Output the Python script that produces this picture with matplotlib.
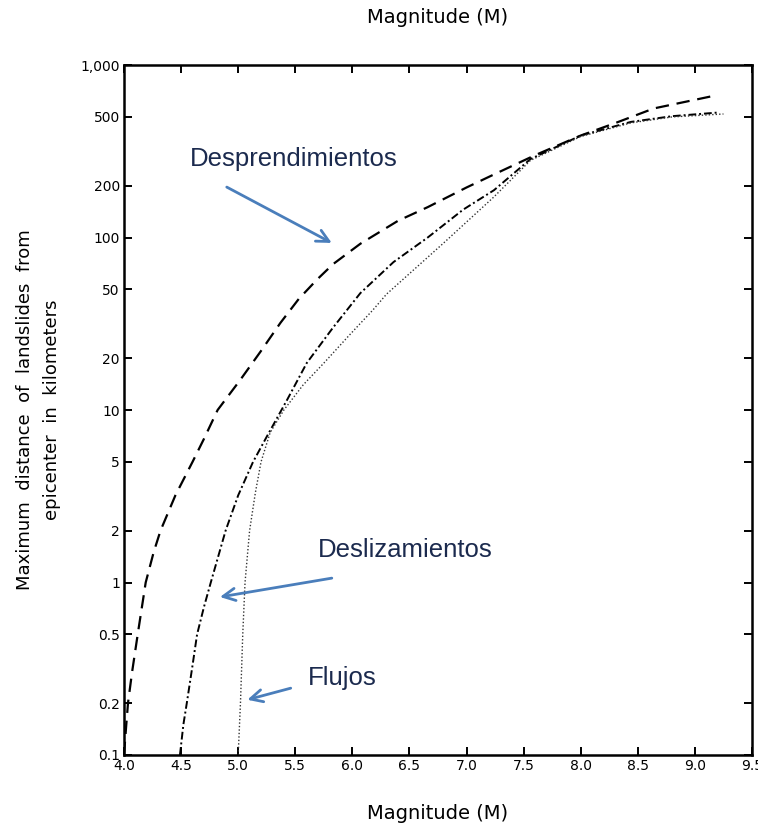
import numpy as np
import matplotlib
matplotlib.use("Agg")
import matplotlib.pyplot as plt
from matplotlib.ticker import FixedLocator, FixedFormatter, NullLocator

# ---- data ----
falls_M = [4.0, 4.02, 4.035, 4.07, 4.12, 4.19, 4.26, 4.32, 4.45, 4.6, 4.7, 4.82, 5.02, 5.2,
           5.37, 5.53, 5.69, 5.83, 6.07, 6.4, 6.66, 7.0, 7.24, 7.6, 8.0, 8.3, 8.64, 9.2]
falls_D = [0.1, 0.15, 0.2, 0.3, 0.5, 1.0, 1.5, 2.0, 3.2, 5.0, 6.8, 10.0, 15.0, 22.0,
           32.0, 44.0, 57.0, 70.0, 92.0, 125.0, 150.0, 195.0, 232.0, 300.0, 390.0, 460.0, 560.0, 670.0]

slides_M = [4.49, 4.52, 4.55, 4.6, 4.64, 4.7, 4.76, 4.89, 5.0, 5.13, 5.25, 5.43, 5.6, 5.83,
            6.07, 6.36, 6.66, 6.97, 7.24, 7.56, 8.0, 8.44, 8.8, 9.2]
slides_D = [0.1, 0.15, 0.2, 0.33, 0.5, 0.72, 1.0, 2.0, 3.2, 5.0, 7.0, 11.5, 18.7, 30.0,
            47.6, 72.0, 100.0, 145.0, 188.0, 285.0, 390.0, 468.0, 505.0, 530.0]

flows_M = [5.0, 5.02, 5.04, 5.06, 5.1, 5.15, 5.2, 5.28, 5.4, 5.57, 5.75, 5.97, 6.18, 6.3,
           6.8, 7.24, 7.56, 8.0, 8.44, 8.8, 9.25]
flows_D = [0.1, 0.2, 0.5, 1.0, 2.0, 3.3, 5.0, 7.4, 10.0, 14.0, 18.7, 27.0, 38.0, 47.0,
           93.0, 172.0, 280.0, 385.0, 462.0, 500.0, 520.0]

x_ticks = [4.0, 4.5, 5.0, 5.5, 6.0, 6.5, 7.0, 7.5, 8.0, 8.5, 9.0, 9.5]
y_ticks = [0.1, 0.2, 0.5, 1, 2, 5, 10, 20, 50, 100, 200, 500, 1000]
y_labels = ["0.1", "0.2", "0.5", "1", "2", "5", "10", "20", "50", "100", "200", "500", "1,000"]

labels = ["Desprendimientos", "Deslizamientos", "Flujos"]
label_pos = [(4.58, 259), (5.70, 1.41), (5.61, 0.255)]
arrow_tail = [(4.90, 196), (5.82, 1.06), (5.46, 0.244)]
arrow_head = [(5.82, 93), (4.84, 0.824), (5.08, 0.209)]

# ---- figure ----
W, H = 758, 834
fig = plt.figure(figsize=(W / 100, H / 100), dpi=100)
ax = fig.add_axes([124 / W, 1 - 755 / H, (752 - 124) / W, (755 - 65) / H])

ax.set_yscale("log")
ax.set_xlim(4.0, 9.5)
ax.set_ylim(0.1, 1000)

ax.plot(falls_M, falls_D, color="black", lw=1.6, linestyle=(0, (6, 3.5)))
ax.plot(slides_M, slides_D, color="black", lw=1.4, linestyle=(0, (4, 1.5, 1, 1.5)))
ax.plot(flows_M, flows_D, color="#333333", lw=1.0, linestyle=(0, (1, 1.5)))

ax.xaxis.set_major_locator(FixedLocator(x_ticks))
ax.xaxis.set_major_formatter(FixedFormatter(["%.1f" % v for v in x_ticks]))
ax.yaxis.set_major_locator(FixedLocator(y_ticks))
ax.yaxis.set_major_formatter(FixedFormatter(y_labels))
ax.yaxis.set_minor_locator(NullLocator())
ax.xaxis.set_minor_locator(NullLocator())

ax.tick_params(axis="both", which="major", direction="in", length=6, width=1.4,
               top=True, right=True, labelsize=10, pad=3, colors="black")
for s in ax.spines.values():
    s.set_linewidth(1.8)
    s.set_color("black")

ax.set_xlabel("Magnitude (M)", fontsize=14, labelpad=22)
ax.set_title("Magnitude (M)", fontsize=14, pad=30)
ax.set_ylabel("Maximum  distance  of  landslides  from\nepicenter  in  kilometers",
              fontsize=13, labelpad=14, linespacing=1.65)

text_color = "#1b2a4e"
arrow_color = "#4a7ebb"
for lab, (tx, ty), tail, head in zip(labels, label_pos, arrow_tail, arrow_head):
    ax.text(tx, ty, lab, fontsize=18.5, family="Liberation Sans", color=text_color,
            ha="left", va="baseline")
    ax.annotate("", xy=head, xytext=tail,
                arrowprops=dict(arrowstyle="->", color=arrow_color, lw=2,
                                mutation_scale=22, shrinkA=0, shrinkB=0))

fig.savefig("out.png", dpi=100)
